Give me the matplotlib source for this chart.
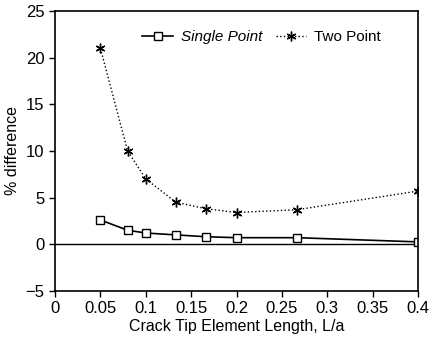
import matplotlib
matplotlib.use("Agg")
import matplotlib.pyplot as plt

plt.rcParams['font.family'] = ['Liberation Sans', 'DejaVu Sans']

x_vals = [0.05, 0.08, 0.1, 0.1333, 0.1667, 0.2, 0.2667, 0.4]
single_point = [2.6, 1.5, 1.2, 1.0, 0.8, 0.7, 0.7, 0.25]
two_point = [21.0, 10.0, 7.0, 4.5, 3.8, 3.4, 3.7, 5.7]
xticks = [0, 0.05, 0.1, 0.15, 0.2, 0.25, 0.3, 0.35, 0.4]
xticklabels = ['0', '0.05', '0.1', '0.15', '0.2', '0.25', '0.3', '0.35', '0.4']
yticks = [-5, 0, 5, 10, 15, 20, 25]

fig = plt.figure(figsize=(4.3, 3.37), dpi=100)
ax = fig.add_axes([0.128, 0.137, 0.844, 0.83])

ax.axhline(0, color='black', lw=1.0)
ax.plot(x_vals, single_point, '-', color='black', lw=1.2, marker='s',
        mfc='white', mec='black', ms=6, mew=1.0, label='Single Point')
ax.plot(x_vals, two_point, ':', color='black', lw=1.0, marker=(6, 2, 0),
        mfc='black', mec='black', ms=7, mew=1.0, label='Two Point')

ax.set_xlim(0, 0.4)
ax.set_ylim(-5, 25)
ax.set_xticks(xticks)
ax.set_xticklabels(xticklabels)
ax.set_yticks(yticks)
ax.tick_params(direction='out', length=4, labelsize=12, width=1)
ax.set_xlabel('Crack Tip Element Length, L/a', fontsize=11.5, labelpad=2)
ax.set_ylabel('% difference', fontsize=11.5)
for s in ax.spines.values():
    s.set_linewidth(1.2)

leg = ax.legend(loc='upper right', ncol=2, frameon=False, fontsize=11,
                handlelength=2.0, columnspacing=0.9, handletextpad=0.5,
                bbox_to_anchor=(0.935, 0.98))
leg.get_texts()[0].set_fontstyle('italic')

fig.savefig('out.png', dpi=100)
